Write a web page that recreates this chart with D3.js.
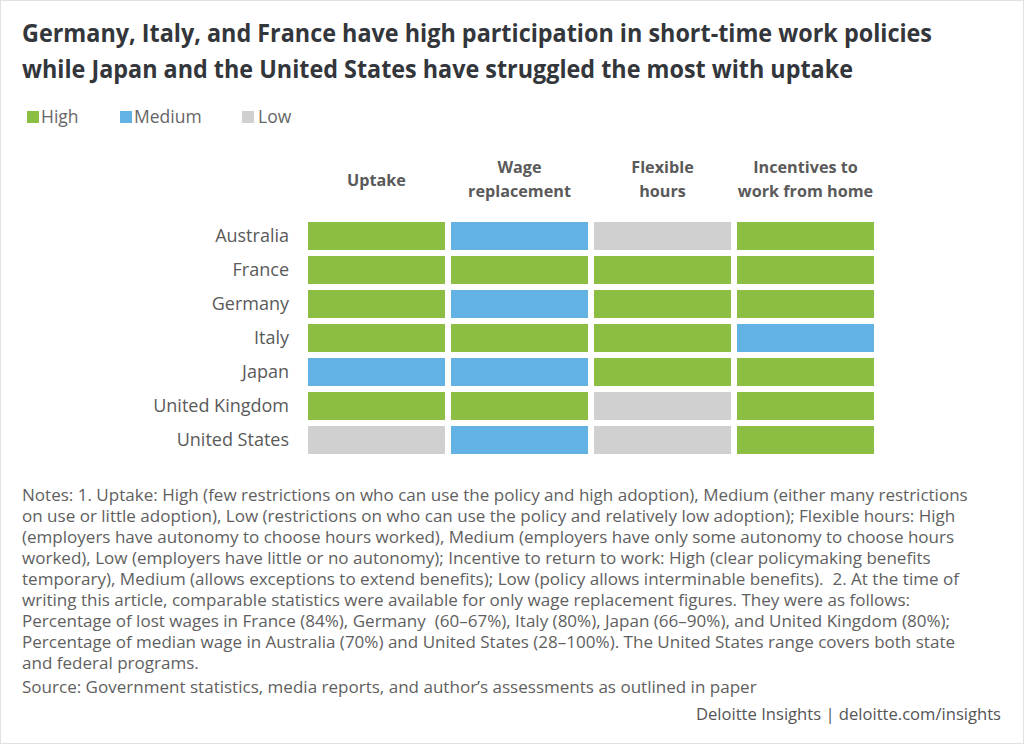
<!DOCTYPE html>
<html>
<head>
<meta charset="utf-8">
<script src="https://cdn.jsdelivr.net/npm/d3@7"></script>
<style>
  body { margin: 0; background: #fff; }
  svg text { font-family: "Open Sans", sans-serif; white-space: pre; }
</style>
</head>
<body>
<div id="chart"></div>
<script>
// chart data
const titleLines = [
  "Germany, Italy, and France have high participation in short-time work policies",
  "while Japan and the United States have struggled the most with uptake"
];
const levels = ["High", "Medium", "Low"];
const levelColors = ["#8cbe43", "#62b3e4", "#d0d0d0"];
const countries = ["Australia", "France", "Germany", "Italy", "Japan", "United Kingdom", "United States"];
const columns = ["Uptake", "Wage replacement", "Flexible hours", "Incentives to work from home"];
const columnLines = [["Uptake"], ["Wage", "replacement"], ["Flexible", "hours"], ["Incentives to", "work from home"]];
const uptake = ["High", "High", "High", "High", "Medium", "High", "Low"];
const wageReplacement = ["Medium", "High", "Medium", "High", "Medium", "High", "Medium"];
const flexibleHours = ["Low", "High", "High", "High", "High", "Low", "Low"];
const incentives = ["High", "High", "High", "Medium", "High", "High", "High"];
const notesLines = [
  "Notes: 1. Uptake: High (few restrictions on who can use the policy and high adoption), Medium (either many restrictions",
  "on use or little adoption), Low (restrictions on who can use the policy and relatively low adoption); Flexible hours: High",
  "(employers have autonomy to choose hours worked), Medium (employers have only some autonomy to choose hours",
  "worked), Low (employers have little or no autonomy); Incentive to return to work: High (clear policymaking benefits",
  "temporary), Medium (allows exceptions to extend benefits); Low (policy allows interminable benefits).  2. At the time of",
  "writing this article, comparable statistics were available for only wage replacement figures. They were as follows:",
  "Percentage of lost wages in France (84%), Germany  (60\u201367%), Italy (80%), Japan (66\u201390%), and United Kingdom (80%);",
  "Percentage of median wage in Australia (70%) and United States (28\u2013100%). The United States range covers both state",
  "and federal programs."
];
const sourceText = "Source: Government statistics, media reports, and author\u2019s assessments as outlined in paper";
const footerText = "Deloitte Insights | deloitte.com/insights";

const W = 1024, H = 744;
const svg = d3.select("#chart").append("svg").attr("width", W).attr("height", H);

// light frame
svg.append("rect").attr("x", 0.5).attr("y", 0.5).attr("width", W - 1).attr("height", H - 1)
  .attr("fill", "#fff").attr("stroke", "#e2e2e2");

// title (squeezed a little to the reference line widths)
const titleWidths = [910, 831];
svg.append("g").selectAll("text").data(titleLines).join("text")
  .attr("x", 22).attr("y", (d, i) => 42 + i * 36)
  .attr("font-size", 25).attr("font-weight", 700).attr("fill", "#33363b")
  .attr("textLength", (d, i) => titleWidths[i]).attr("lengthAdjust", "spacingAndGlyphs")
  .text(d => d);

// legend
const color = d3.scaleOrdinal().domain(levels).range(levelColors);
const legendX = [27, 120, 242];
const leg = svg.append("g").selectAll("g").data(levels).join("g")
  .attr("transform", (d, i) => `translate(${legendX[i]},0)`);
leg.append("rect").attr("y", 111).attr("width", 12).attr("height", 12).attr("fill", d => color(d));
leg.append("text").attr("x", (d, i) => (i == 2 ? 16 : 14)).attr("y", 123)
  .attr("font-size", 17.5).attr("fill", "#666").text(d => d);

// grid
const table = countries.map((c, i) => ({
  country: c,
  values: [uptake[i], wageReplacement[i], flexibleHours[i], incentives[i]]
}));

const x = d3.scaleBand().domain(columns).range([305, 877]).paddingInner(6 / 143).paddingOuter(3 / 143);
const y = d3.scaleBand().domain(countries).range([219, 457]).paddingInner(6 / 34).paddingOuter(3 / 34);

// column headers
const heads = svg.append("g").selectAll("text").data(columns).join("text")
  .attr("text-anchor", "middle")
  .attr("font-size", 16.2).attr("font-weight", 700).attr("fill", "#5a5a5a");
heads.each(function (d, i) {
  const lines = columnLines[i];
  const y0 = lines.length == 1 ? 186 : 173;
  d3.select(this).selectAll("tspan").data(lines).join("tspan")
    .attr("x", x(d) + x.bandwidth() / 2)
    .attr("y", (l, j) => y0 + j * 24)
    .text(l => l);
});

// row labels
svg.append("g").selectAll("text").data(countries).join("text")
  .attr("x", 289).attr("y", d => y(d) + y.bandwidth() / 2 + 6)
  .attr("text-anchor", "end").attr("font-size", 18).attr("fill", "#5a5a5a")
  .text(d => d);

// cells
const rows = svg.append("g").selectAll("g").data(table).join("g")
  .attr("transform", d => `translate(0,${y(d.country)})`);
rows.selectAll("rect").data(d => d.values.map((v, j) => ({ col: columns[j], level: v })))
  .join("rect")
  .attr("x", d => x(d.col))
  .attr("width", x.bandwidth())
  .attr("height", y.bandwidth())
  .attr("fill", d => color(d.level));

// notes
svg.append("g").selectAll("text").data(notesLines).join("text")
  .attr("x", 22).attr("y", (d, i) => 501 + i * 21)
  .attr("font-size", 17.05).attr("fill", "#5f5f5f")
  .text(d => d);

svg.append("text").attr("x", 22).attr("y", 693)
  .attr("font-size", 17.05).attr("fill", "#5f5f5f").text(sourceText);

svg.append("text").attr("x", 1001).attr("y", 720).attr("text-anchor", "end")
  .attr("font-size", 16.6).attr("fill", "#555").text(footerText);
</script>
</body>
</html>
